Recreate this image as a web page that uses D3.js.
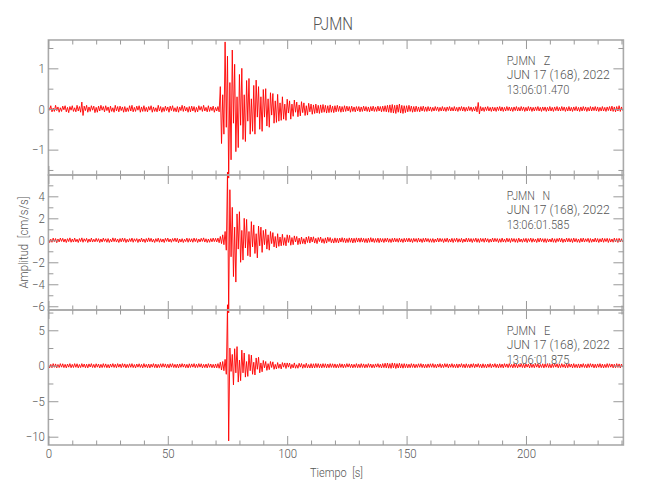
<!DOCTYPE html>
<html><head><meta charset="utf-8">
<script src="https://cdn.jsdelivr.net/npm/d3@7"></script>
<style>
html,body{margin:0;padding:0;background:#fff;}
text{font-family:Roboto,"DejaVu Sans",sans-serif;font-weight:300;fill:#555;}
</style></head>
<body>
<svg id="chart" width="650" height="500"></svg>
<script>
// ---- data ----
const title = "PJMN";
const xLabel = "Tiempo  [s]";
const yLabel = "Amplitud  [cm/s/s]";
const dt = 0.5;            // sample interval of the hand-read traces (s)
const timeMax = 240.8;
const xMajorTicks = [0, 50, 100, 150, 200];
const xMinorTicks = [10,20,30,40,60,70,80,90,110,120,130,140,160,170,180,190,210,220,230,240];
const components = ["Z", "N", "E"];
const startTimes = ["13:06:01.470", "13:06:01.585", "13:06:01.875"];
const dateLine = "JUN 17 (168), 2022";

const zDomain = [-1.624, 1.697];
const nDomain = [-6.34, 5.94];
const eDomain = [-11.17, 7.86];
const zMajor = [-1, 0, 1], zMinor = [-1.5, -0.5, 0.5, 1.5];
const nMajor = [-6, -4, -2, 0, 2, 4], nMinor = [-5, -3, -1, 1, 3, 5];
const eMajor = [-10, -5, 0, 5], eMinor = [-7.5, -2.5, 2.5, 7.5];

const zValues = [
.06,-.03,.08,-.07,.02,-.06,.09,-.04,.05,-.08,.03,-.06,.07,-.02,.08,-.07,.04,-.09,.06,-.03,
.08,-.06,.03,-.07,.09,-.05,.06,-.08,.17,-.16,.07,-.04,.09,-.08,.05,-.06,.08,-.03,.07,-.09,
.04,-.08,.07,-.05,.09,-.03,.06,-.07,.08,-.04,.05,-.09,.07,-.06,.03,-.08,.09,-.05,.06,-.07,
.07,-.04,.05,-.08,.06,-.07,.03,-.06,.08,-.05,.09,-.07,.04,-.06,.07,-.03,.08,-.08,.05,-.06,
.08,-.06,.04,-.07,.06,-.03,.08,-.08,.05,-.06,.03,-.07,.09,-.05,.06,-.08,.04,-.06,.07,-.04,
.05,-.08,.07,-.04,.08,-.06,.03,-.07,.06,-.08,.05,-.04,.09,-.06,.07,-.05,.04,-.08,.06,-.07,
.07,-.05,.06,-.08,.04,-.07,.08,-.03,.06,-.06,.09,-.05,.04,-.07,.08,-.06,.05,-.04,.07,-.08,
.04,-.05,.06,-.07,.55,-.85,.35,-.62,1.65,-.45,1.3,-1.7,.65,-1.25,1.45,-.35,1.1,-1.05,.3,-.95,
.85,-.4,1.0,-.75,.35,-.8,.7,-.3,.75,-.62,.25,-.55,.58,-.62,.71,-.2,.55,-.5,.3,-.55,
.48,-.2,.5,-.42,.25,-.45,.4,-.15,.38,-.35,.2,-.33,.36,-.3,.15,-.28,.3,-.25,.12,-.28,
.24,-.1,.2,-.25,.12,-.18,.22,-.08,.17,-.19,.1,-.17,.18,-.09,.15,-.16,.08,-.15,.14,-.07,
.12,-.13,.1,-.11,.12,-.1,.09,-.11,.1,-.09,.11,-.08,.09,-.1,.08,-.09,.1,-.08,.07,-.09,
.08,-.07,.09,-.06,.07,-.08,.06,-.07,.08,-.06,.07,-.05,.06,-.08,.07,-.06,.05,-.07,.06,-.05,
.06,-.07,.05,-.06,.07,-.05,.06,-.06,.05,-.07,.06,-.05,.07,-.06,.05,-.06,.07,-.05,.06,-.07,
.07,-.06,.08,-.07,.09,-.08,.1,-.09,.11,-.1,.09,-.11,.1,-.08,.12,-.1,.09,-.11,.08,-.09,
.08,-.07,.09,-.06,.07,-.08,.06,-.07,.07,-.06,.05,-.07,.06,-.05,.07,-.06,.05,-.06,.06,-.05,
.05,-.06,.04,-.05,.06,-.04,.05,-.06,.04,-.05,.06,-.05,.04,-.06,.05,-.04,.06,-.05,.04,-.05,
.06,-.05,.04,-.06,.05,-.04,.06,-.05,.05,-.06,.04,-.05,.06,-.04,.05,-.06,.04,-.05,.06,-.07,
.16,-.12,.06,-.05,.04,-.06,.05,-.04,.06,-.05,.04,-.06,.05,-.05,.04,-.06,.05,-.04,.06,-.05,
.05,-.06,.04,-.05,.06,-.04,.05,-.05,.04,-.06,.05,-.04,.06,-.05,.04,-.05,.06,-.04,.05,-.06,
.04,-.05,.06,-.04,.05,-.06,.04,-.05,.05,-.04,.06,-.05,.04,-.06,.05,-.04,.05,-.06,.04,-.05,
.06,-.05,.04,-.06,.05,-.04,.06,-.05,.04,-.05,.06,-.04,.05,-.06,.04,-.05,.06,-.05,.04,-.06,
.05,-.04,.06,-.05,.04,-.06,.05,-.05,.06,-.04,.05,-.06,.04,-.05,.06,-.05,.05,-.04,.06,-.05,
.05,-.06,.04,-.05,.06,-.05,.04,-.06,.05,-.04,.06,-.05,.07,-.06,.05,-.07,.06,-.05,.08,-.06,
.05,-.04];

const nValues = [
.15,-.2,.1,-.18,.2,-.12,.16,-.22,.12,-.15,.2,-.1,.18,-.16,.12,-.2,.15,-.12,.22,-.18,
.12,-.16,.2,-.14,.1,-.2,.16,-.12,.22,-.18,.14,-.1,.18,-.2,.12,-.15,.2,-.16,.1,-.14,
.18,-.12,.15,-.2,.12,-.16,.2,-.1,.14,-.18,.16,-.2,.1,-.15,.22,-.12,.18,-.16,.12,-.2,
.16,-.14,.2,-.12,.18,-.2,.1,-.16,.15,-.12,.2,-.18,.14,-.1,.16,-.2,.12,-.15,.2,-.14,
.12,-.2,.16,-.14,.22,-.12,.18,-.16,.1,-.2,.15,-.12,.2,-.18,.14,-.16,.12,-.2,.18,-.1,
.2,-.15,.12,-.18,.16,-.1,.2,-.14,.18,-.22,.12,-.16,.15,-.2,.1,-.12,.2,-.18,.16,-.14,
.14,-.18,.2,-.12,.16,-.2,.12,-.15,.18,-.1,.22,-.16,.14,-.2,.12,-.18,.16,-.14,.2,-.12,
.18,-.15,.2,-.22,.35,-.3,.5,-.4,.8,-.9,6.2,-6.6,4.6,-1.5,3.0,-3.3,1.2,-3.8,2.4,-.8,
2.6,-2.0,.9,-1.8,2.0,-.7,1.9,-1.4,.8,-1.5,1.7,-.6,1.4,-1.2,.6,-1.6,1.3,-.5,1.2,-1.1,
.9,-.4,1.0,-.8,.5,-.9,.8,-.3,.7,-.6,.35,-.7,.6,-.55,.3,-.5,.55,-.45,.25,-.5,
.5,-.2,.45,-.45,.25,-.4,.4,-.15,.35,-.4,.2,-.35,.3,-.3,.15,-.35,.3,-.2,.35,-.25,
.3,-.15,.32,-.25,.18,-.3,.25,-.12,.3,-.22,.15,-.28,.22,-.25,.28,-.12,.25,-.22,.14,-.25,
.22,-.2,.18,-.24,.2,-.16,.24,-.18,.2,-.22,.16,-.2,.22,-.18,.2,-.24,.18,-.2,.22,-.16,
.2,-.18,.22,-.16,.18,-.2,.16,-.22,.2,-.18,.24,-.16,.18,-.2,.16,-.18,.2,-.22,.18,-.16,
.16,-.2,.18,-.14,.2,-.18,.14,-.2,.18,-.16,.2,-.14,.16,-.18,.2,-.16,.14,-.2,.18,-.15,
.18,-.14,.2,-.16,.15,-.2,.18,-.12,.16,-.18,.2,-.15,.14,-.2,.18,-.16,.2,-.12,.16,-.18,
.14,-.18,.16,-.2,.12,-.15,.2,-.16,.18,-.12,.15,-.2,.16,-.14,.2,-.18,.12,-.16,.18,-.2,
.16,-.12,.2,-.18,.14,-.16,.18,-.2,.12,-.15,.2,-.16,.18,-.14,.16,-.2,.15,-.12,.2,-.18,
.15,-.2,.18,-.12,.16,-.18,.2,-.14,.15,-.2,.12,-.16,.2,-.15,.18,-.12,.16,-.2,.14,-.18,
.2,-.16,.12,-.18,.2,-.14,.16,-.2,.18,-.12,.16,-.18,.14,-.2,.2,-.15,.12,-.18,.16,-.14,
.18,-.2,.15,-.12,.2,-.18,.16,-.14,.12,-.2,.18,-.16,.2,-.12,.15,-.18,.16,-.2,.14,-.15,
.12,-.16,.2,-.18,.14,-.2,.16,-.12,.2,-.15,.18,-.2,.12,-.16,.2,-.14,.18,-.16,.15,-.2,
.2,-.14,.16,-.18,.12,-.2,.18,-.15,.2,-.16,.14,-.12,.18,-.2,.16,-.18,.12,-.15,.2,-.16,
.16,-.2,.14,-.15,.2,-.18,.16,-.12,.18,-.2,.15,-.16,.12,-.18,.2,-.14,.16,-.2,.18,-.15,
.14,-.16];

const eValues = [
.25,-.3,.2,-.28,.3,-.22,.26,-.3,.18,-.25,.3,-.2,.28,-.26,.2,-.3,.24,-.2,.3,-.28,
.2,-.25,.3,-.22,.28,-.3,.18,-.26,.3,-.2,.25,-.28,.22,-.3,.26,-.18,.3,-.25,.2,-.28,
.28,-.2,.24,-.3,.2,-.26,.3,-.22,.26,-.28,.18,-.3,.25,-.2,.3,-.24,.22,-.28,.3,-.2,
.24,-.28,.3,-.2,.26,-.3,.2,-.25,.28,-.22,.3,-.26,.18,-.3,.25,-.2,.28,-.24,.2,-.3,
.3,-.22,.2,-.28,.25,-.3,.22,-.2,.3,-.26,.24,-.3,.2,-.25,.28,-.22,.3,-.2,.26,-.28,
.22,-.3,.28,-.2,.3,-.25,.2,-.28,.24,-.3,.26,-.22,.3,-.2,.25,-.28,.2,-.3,.28,-.24,
.26,-.2,.3,-.28,.22,-.25,.3,-.2,.28,-.3,.2,-.26,.24,-.3,.3,-.22,.25,-.28,.2,-.3,
.25,-.3,.3,-.35,.5,-.6,.6,-.7,.9,-1.2,8.6,-10.6,2.5,-.8,1.6,-2.7,2.4,-1.0,2.7,-2.3,
.8,-2.1,2.2,-1.0,1.8,-1.6,.6,-1.5,1.6,-.7,1.5,-1.2,.5,-1.3,1.1,-.5,1.2,-1.0,.4,-.85,
.75,-.3,.6,-.65,.3,-.55,.6,-.25,.55,-.5,.2,-.45,.45,-.35,.25,-.45,.45,-.2,.4,-.38,
.4,-.2,.38,-.4,.2,-.3,.4,-.35,.15,-.35,.35,-.2,.32,-.35,.2,-.28,.35,-.3,.18,-.32,
.3,-.32,.28,-.3,.32,-.26,.3,-.28,.26,-.3,.3,-.25,.28,-.3,.25,-.28,.3,-.24,.28,-.26,
.26,-.3,.2,-.28,.3,-.24,.26,-.3,.22,-.25,.3,-.2,.28,-.26,.24,-.3,.2,-.25,.3,-.28,
.22,-.28,.3,-.24,.26,-.3,.2,-.26,.3,-.22,.25,-.3,.2,-.28,.26,-.2,.3,-.25,.22,-.3,
.3,-.26,.35,-.3,.38,-.34,.3,-.36,.4,-.3,.35,-.38,.3,-.32,.36,-.3,.28,-.34,.3,-.28,
.26,-.3,.22,-.28,.3,-.24,.26,-.3,.2,-.25,.28,-.22,.3,-.26,.24,-.3,.2,-.28,.26,-.24,
.28,-.22,.3,-.26,.2,-.3,.25,-.2,.3,-.28,.22,-.26,.3,-.2,.28,-.3,.24,-.22,.3,-.26,
.2,-.28,.26,-.3,.24,-.2,.3,-.25,.22,-.3,.28,-.24,.2,-.3,.26,-.22,.3,-.28,.24,-.2,
.3,-.24,.22,-.3,.28,-.26,.2,-.3,.25,-.22,.3,-.28,.24,-.2,.3,-.26,.22,-.3,.28,-.25,
.24,-.3,.3,-.2,.26,-.28,.3,-.22,.2,-.3,.28,-.25,.24,-.3,.22,-.2,.3,-.26,.25,-.3,
.28,-.2,.24,-.3,.3,-.25,.22,-.28,.3,-.2,.26,-.3,.2,-.24,.28,-.3,.25,-.22,.3,-.26,
.22,-.3,.26,-.24,.3,-.2,.28,-.3,.24,-.26,.3,-.22,.2,-.3,.26,-.28,.3,-.2,.25,-.3,
.3,-.26,.2,-.28,.26,-.3,.24,-.22,.3,-.25,.2,-.3,.28,-.24,.3,-.2,.26,-.3,.22,-.28,
.26,-.22,.3,-.28,.24,-.3,.2,-.26,.3,-.24,.28,-.2,.25,-.3,.22,-.28,.3,-.24,.26,-.3,
.24,-.2];

// ---- layout ----
const left = 48.4, right = 623.4;
const panelTop = 40, panelH = 135;
const svg = d3.select("#chart");
const x = d3.scaleLinear().domain([0, timeMax]).range([left, right]);

const panels = [
  {comp: components[0], vals: zValues, dom: zDomain, major: zMajor, minor: zMinor, time: startTimes[0]},
  {comp: components[1], vals: nValues, dom: nDomain, major: nMajor, minor: nMinor, time: startTimes[1]},
  {comp: components[2], vals: eValues, dom: eDomain, major: eMajor, minor: eMinor, time: startTimes[2]}
];

const axisCol = "#aaaaaa";
const fmt = d => d3.format("")(d);
const SX = 0.88; // horizontal squeeze to mimic the narrow plotting font

function fitText(sel, len) {
  sel.attr("textLength", len).attr("lengthAdjust", "spacingAndGlyphs");
  return sel;
}

panels.forEach((p, i) => {
  const top = panelTop + i * panelH, bot = top + panelH;
  const y = d3.scaleLinear().domain(p.dom).range([bot, top]);
  const g = svg.append("g");

  const line = d3.line().x((d, k) => x(k * dt)).y(d => y(d));
  g.append("path").datum(p.vals).attr("d", line)
    .attr("fill", "none").attr("stroke", "#ff0000").attr("stroke-width", 0.9);

  g.append("rect").attr("x", left).attr("y", top).attr("width", right - left).attr("height", panelH)
    .attr("fill", "none").attr("stroke", axisCol).attr("stroke-width", 1.6);

  function addAxis(axis, tr, labels) {
    const a = g.append("g").attr("transform", tr).call(axis);
    a.select(".domain").remove();
    a.selectAll(".tick line").attr("stroke", "#999").attr("stroke-width", 1);
    if (!labels) a.selectAll(".tick text").remove();
    else a.selectAll(".tick text").attr("fill", "#555").attr("font-family", null).attr("font-size", null)
      .style("font-size", "13px").attr("transform", `scale(${SX},1)`);
    return a;
  }
  addAxis(d3.axisLeft(y).tickValues(p.major).tickSize(-10).tickPadding(4).tickFormat(fmt), `translate(${left},0)`, true);
  addAxis(d3.axisLeft(y).tickValues(p.minor).tickSize(-5), `translate(${left},0)`, false);
  addAxis(d3.axisRight(y).tickValues(p.major).tickSize(-10), `translate(${right},0)`, false);
  addAxis(d3.axisRight(y).tickValues(p.minor).tickSize(-5), `translate(${right},0)`, false);
  addAxis(d3.axisTop(x).tickValues(xMajorTicks).tickSize(-9), `translate(0,${top})`, false);
  addAxis(d3.axisTop(x).tickValues(xMinorTicks).tickSize(-4.5), `translate(0,${top})`, false);
  addAxis(d3.axisBottom(x).tickValues(xMajorTicks).tickSize(-9).tickPadding(4).tickFormat(fmt), `translate(0,${bot})`, i === 2);
  addAxis(d3.axisBottom(x).tickValues(xMinorTicks).tickSize(-4.5), `translate(0,${bot})`, false);

  const lines = [[`PJMN   ${p.comp}`, 43.5], [dateLine, 103], [p.time, 62.7]];
  lines.forEach((l, k) => {
    fitText(g.append("text").attr("x", 506.7).attr("y", top + 25 + k * 14.3)
      .style("font-size", "13px").attr("xml:space", "preserve").style("white-space", "pre").text(l[0]), l[1]);
  });
});

fitText(svg.append("text").attr("x", 313).attr("y", 30).style("font-size", "18px").attr("fill", "#777").text(title), 40);
fitText(svg.append("text").attr("x", 310).attr("y", 477).style("font-size", "13px")
  .attr("xml:space", "preserve").style("white-space", "pre").text(xLabel), 53);
fitText(svg.append("text").attr("transform", "translate(28,288.5) rotate(-90)").style("font-size", "13.5px")
  .attr("xml:space", "preserve").style("white-space", "pre").text(yLabel), 92);
</script>
</body></html>
